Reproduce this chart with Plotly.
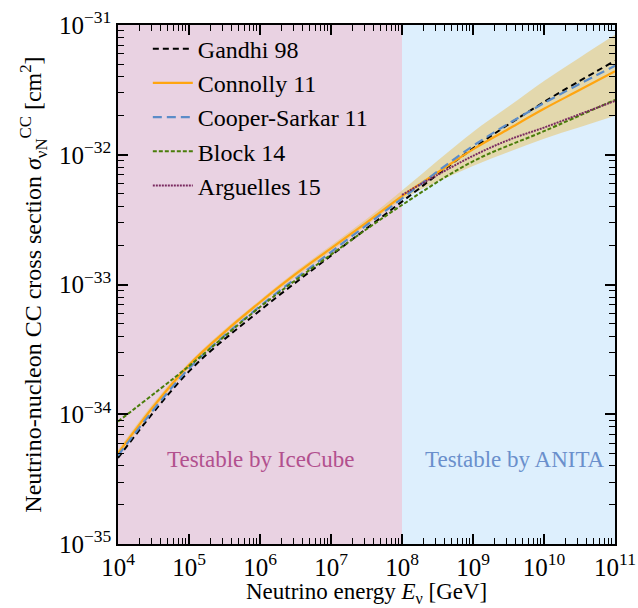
import plotly.graph_objects as go

# Energies (GeV)
E_full = [1e4, 10**4.5, 1e5, 10**5.5, 1e6, 10**6.5, 1e7, 10**7.5, 1e8, 10**8.5, 1e9, 10**9.5, 1e10, 10**10.5, 1e11]
E_dec = [1e4, 1e5, 1e6, 1e7, 1e8, 1e9, 1e10, 1e11]
E_arg = [1e8, 10**8.5, 1e9, 10**9.5, 1e10, 10**10.5, 1e11]

# Cross sections (cm^2)
gandhi = [4.6e-35, 2.14e-34, 6.3e-34, 1.67e-33, 4.35e-33, 1.12e-32, 2.55e-32, 5.3e-32]
connolly = [5.0e-35, 1.15e-34, 2.4e-34, 4.3e-34, 7.3e-34, 1.2e-33, 1.9e-33, 3.0e-33, 4.8e-33,
            7.3e-33, 1.1e-32, 1.58e-32, 2.26e-32, 3.15e-32, 4.4e-32]
connolly_lo = [4.7e-35, 1.08e-34, 2.25e-34, 4.1e-34, 7.0e-34, 1.14e-33, 1.8e-33, 2.85e-33, 4.5e-33,
               6.2e-33, 8.2e-33, 1.05e-32, 1.33e-32, 1.63e-32, 2.0e-32]
connolly_hi = [5.3e-35, 1.22e-34, 2.5e-34, 4.5e-34, 7.6e-34, 1.26e-33, 2.0e-33, 3.2e-33, 5.3e-33,
               9.0e-33, 1.5e-32, 2.35e-32, 3.7e-32, 5.6e-32, 8.4e-32]
cooper = [4.8e-35, 2.25e-34, 6.8e-34, 1.78e-33, 4.6e-33, 1.17e-32, 2.5e-32, 4.85e-32]
block = [8.8e-35, 2.35e-34, 6.7e-34, 1.7e-33, 4.1e-33, 8.9e-33, 1.52e-32, 2.65e-32]
arguelles = [4.9e-33, 7.0e-33, 9.8e-33, 1.3e-32, 1.62e-32, 2.05e-32, 2.6e-32]

x_tickvals = [1e4, 1e5, 1e6, 1e7, 1e8, 1e9, 1e10, 1e11]
x_ticktext = ["10<sup>4</sup>", "10<sup>5</sup>", "10<sup>6</sup>", "10<sup>7</sup>", "10<sup>8</sup>",
              "10<sup>9</sup>", "10<sup>10</sup>", "10<sup>11</sup>"]
y_tickvals = [1e-35, 1e-34, 1e-33, 1e-32, 1e-31]
y_ticktext = ["10<sup>\u221235</sup>", "10<sup>\u221234</sup>", "10<sup>\u221233</sup>",
              "10<sup>\u221232</sup>", "10<sup>\u221231</sup>"]

FONT = "Liberation Serif"

fig = go.Figure()

# Connolly uncertainty band
fig.add_trace(go.Scatter(x=E_full, y=connolly_hi, mode="lines", line=dict(width=0, color="rgba(0,0,0,0)"),
                         showlegend=False, hoverinfo="skip", line_shape="spline"))
fig.add_trace(go.Scatter(x=E_full, y=connolly_lo, mode="lines", line=dict(width=0, color="rgba(0,0,0,0)"),
                         fill="tonexty", fillcolor="rgba(232,200,120,0.6)", showlegend=False,
                         hoverinfo="skip", line_shape="spline"))

fig.add_trace(go.Scatter(x=E_dec, y=gandhi, mode="lines", name="Gandhi 98",
                         line=dict(color="black", width=2, dash="6px,4px"), line_shape="spline"))
fig.add_trace(go.Scatter(x=E_full, y=connolly, mode="lines", name="Connolly 11",
                         line=dict(color="#ffa510", width=2.2), line_shape="spline"))
fig.add_trace(go.Scatter(x=E_dec, y=cooper, mode="lines", name="Cooper-Sarkar 11",
                         line=dict(color="#5b8cc8", width=2.2, dash="9px,5px"), line_shape="spline"))
fig.add_trace(go.Scatter(x=E_dec, y=block, mode="lines", name="Block 14",
                         line=dict(color="#4a7d0a", width=2, dash="4px,2px"), line_shape="spline"))
fig.add_trace(go.Scatter(x=E_arg, y=arguelles, mode="lines", name="Arguelles 15",
                         line=dict(color="#7a2a60", width=2, dash="2px,1px"), line_shape="spline"))

# Background regions
fig.add_shape(type="rect", xref="x", yref="paper", x0=1e4, x1=1e8, y0=0, y1=1,
              fillcolor="#e9d2e2", line_width=0, layer="below")
fig.add_shape(type="rect", xref="x", yref="paper", x0=1e8, x1=1e11, y0=0, y1=1,
              fillcolor="#ddeffd", line_width=0, layer="below")

fig.add_annotation(x=6, y=-34.35, xref="x", yref="y", text="Testable by IceCube", showarrow=False,
                   font=dict(family=FONT, size=23, color="#b2508e"))
fig.add_annotation(x=9.59, y=-34.35, xref="x", yref="y", text="Testable by ANITA", showarrow=False,
                   font=dict(family=FONT, size=23, color="#6a8fcc"))

# x-axis title as annotation (below the tick labels)
fig.add_annotation(x=0.5, y=0, xref="paper", yref="paper", xanchor="center", yanchor="top",
                   yshift=-33, showarrow=False,
                   text="Neutrino energy <i>E</i><sub>\u03bd</sub> [GeV]",
                   font=dict(family=FONT, size=23, color="black"))

axis_common = dict(type="log", showgrid=False, zeroline=False, showline=True, linecolor="black",
                   linewidth=1.5, mirror="allticks", ticks="inside", ticklen=10, tickwidth=1.5,
                   tickcolor="black", tickfont=dict(family=FONT, size=25, color="black"),
                   automargin=False,
                   minor=dict(dtick="D1", ticks="inside", ticklen=6, tickwidth=1.2,
                              tickcolor="black", showgrid=False))

fig.update_xaxes(range=[4, 11], tickvals=x_tickvals, ticktext=x_ticktext, **axis_common)
fig.update_yaxes(range=[-35, -31], tickvals=y_tickvals, ticktext=y_ticktext,
                 title=dict(text="Neutrino-nucleon CC cross section <i>\u03c3</i><sub>\u03bdN</sub><sup>CC</sup> [cm<sup>2</sup>]",
                            font=dict(family=FONT, size=24, color="black"), standoff=10),
                 **axis_common)

fig.update_layout(
    width=638, height=608,
    margin=dict(l=118, r=23, t=25, b=64),
    paper_bgcolor="white", plot_bgcolor="white",
    showlegend=True,
    legend=dict(x=0.06, y=0.997, xanchor="left", yanchor="top", bgcolor="rgba(0,0,0,0)",
                font=dict(family=FONT, size=24, color="black"), tracegroupgap=0,
                traceorder="normal", itemwidth=40),
)

fig.write_html("out.html")
